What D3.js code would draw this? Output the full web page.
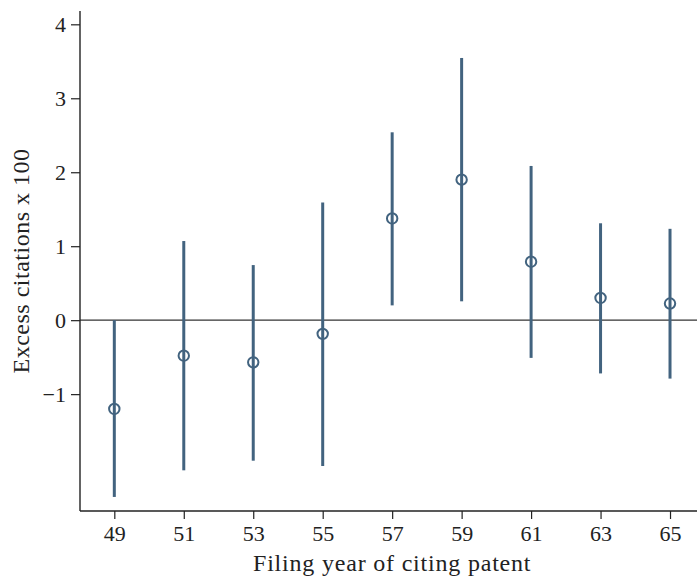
<!DOCTYPE html>
<html><head><meta charset="utf-8">
<script src="https://cdn.jsdelivr.net/npm/d3@7"></script>
<style>
body{margin:0;background:#fff;}
svg{display:block;}
</style></head>
<body><svg id="chart" width="697" height="578"></svg>
<script>
const years = [49, 51, 53, 55, 57, 59, 61, 63, 65];
const estimates = [-1.20, -0.48, -0.57, -0.185, 1.375, 1.90, 0.79, 0.30, 0.225];
const lowerCI = [-2.39, -2.03, -1.90, -1.97, 0.20, 0.255, -0.51, -0.72, -0.79];
const upperCI = [0.0, 1.07, 0.745, 1.59, 2.54, 3.545, 2.085, 1.31, 1.235];
const yTicks = [-1, 0, 1, 2, 3, 4];
const yTickLabels = ["\u22121", "0", "1", "2", "3", "4"];
const xTitle = "Filing year of citing patent";
const yTitle = "Excess citations x 100";

(function(){
const FONT = "'Liberation Serif', 'DejaVu Serif', serif";
const svg = d3.select("#chart");
const pL = 80, pR = 697, pT = 11, pB = 511;
const x = d3.scaleLinear().domain([48.012, 65.777]).range([pL, pR]);
const y = d3.scaleLinear().domain([-2.58, 4.18]).range([pB, pT]);
const col = "#42637f";

svg.append("line").attr("x1", pL).attr("x2", pR).attr("y1", y(0)).attr("y2", y(0))
  .attr("stroke", "#333").attr("stroke-width", 1.4);

const data = years.map((yr, i) => ({yr, est: estimates[i], lo: lowerCI[i], hi: upperCI[i]}));
svg.append("g").selectAll("line").data(data).join("line")
  .attr("x1", d => x(d.yr)).attr("x2", d => x(d.yr))
  .attr("y1", d => y(d.lo)).attr("y2", d => y(d.hi))
  .attr("stroke", col).attr("stroke-width", 3);
svg.append("g").selectAll("circle").data(data).join("circle")
  .attr("cx", d => x(d.yr)).attr("cy", d => y(d.est)).attr("r", 5.2)
  .attr("fill", "none").attr("stroke", col).attr("stroke-width", 2);

const yAxis = d3.axisLeft(y).tickValues(yTicks).tickFormat((d, i) => yTickLabels[i]).tickSize(9).tickPadding(5);
const gy = svg.append("g").attr("transform", `translate(${pL},0)`).call(yAxis);
gy.attr("font-family", FONT).attr("font-size", 22);
gy.select(".domain").attr("d", `M0,${pT}V${pB}`).attr("stroke", "#222").attr("stroke-width", 1.4);
gy.selectAll(".tick line").attr("stroke", "#222").attr("stroke-width", 1.2);
gy.selectAll(".tick text").attr("fill", "#222");

const xAxis = d3.axisBottom(x).tickValues(years).tickFormat(d3.format("d")).tickSize(8).tickPadding(6.4);
const gx = svg.append("g").attr("transform", `translate(0,${pB})`).call(xAxis);
gx.attr("font-family", FONT).attr("font-size", 22);
gx.select(".domain").attr("d", `M${pL},0H${pR}`).attr("stroke", "#222").attr("stroke-width", 1.4);
gx.selectAll(".tick line").attr("stroke", "#222").attr("stroke-width", 1.2);
gx.selectAll(".tick text").attr("fill", "#222");

svg.append("text").attr("x", 253).attr("y", 571).attr("text-anchor", "start")
  .attr("font-family", FONT).attr("font-size", 24).attr("letter-spacing", 0.8).attr("fill", "#222")
  .text(xTitle);
svg.append("text").attr("transform", "translate(29,261) rotate(-90)").attr("text-anchor", "middle")
  .attr("font-family", FONT).attr("font-size", 24).attr("letter-spacing", 0.5).attr("fill", "#222")
  .text(yTitle);
})();
</script></body></html>
